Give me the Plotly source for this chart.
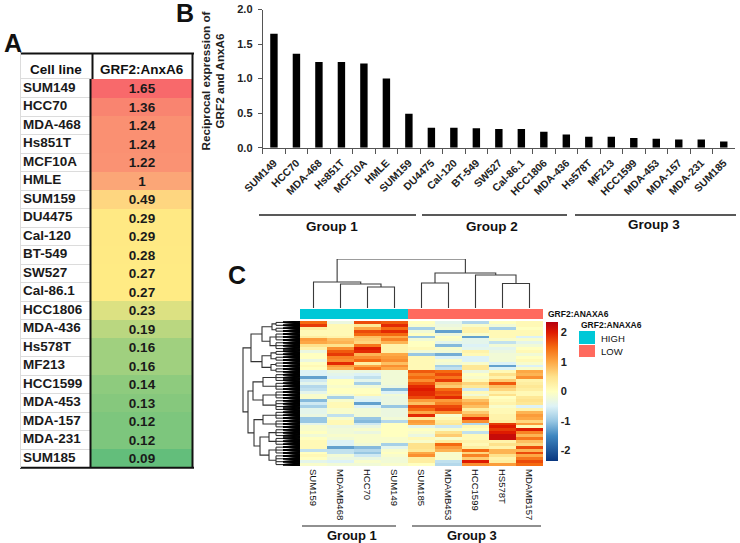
import numpy as np
import plotly.graph_objects as go

W, H = 740, 543
FONT = "Liberation Sans"

# Panel A / B data
cell_lines = ["SUM149", "HCC70", "MDA-468", "Hs851T", "MCF10A", "HMLE", "SUM159", "DU4475", "Cal-120",
              "BT-549", "SW527", "Cal-86.1", "HCC1806", "MDA-436", "Hs578T", "MF213", "HCC1599",
              "MDA-453", "MDA-157", "MDA-231", "SUM185"]
ratio = [1.65, 1.36, 1.24, 1.24, 1.22, 1, 0.49, 0.29, 0.29, 0.28, 0.27, 0.27, 0.23, 0.19, 0.16, 0.16,
         0.14, 0.13, 0.12, 0.12, 0.09]
y_ticks_b = [0, 0.5, 1, 1.5, 2]

# Panel C data, one list per sample, top row first
samples = ["SUM159", "MDAMB468", "HCC70", "SUM149", "SUM185", "MDAMB453", "HCC1599", "HS578T", "MDAMB157"]
SUM159 = [1.5, 1.8, .3, .1, .1, .3, 1.1, 1.0, .5, .2, -.3, 0, 0, -.3, 0, .1, 0, -.5, -.5, -1.3, -.6, -.4, -.8, -.7, -.4,
          -.1, -.1, -1.1, -.6, -.9, -.4, -.4, -.3, -1.0, -1.0, -.4, -.1, -.1, 0, -.2, 0, .1, .1, .1, -.7, 0, .1, 0, -.4, -.1]
MDAMB468 = [-.3, .1, .1, .1, .1, .2, .8, .9, .5, 1.2, 1.6, 1.8, 1.3, 1.2, 1.9, 1.1, .9, -.3, -.4, -.5, 0, 0, -.1, 0, 0,
            -.2, -.9, -.1, .1, .1, -.1, -.1, -.7, -.1, .1, .1, -.3, -.2, -.2, -.1, -.2, -.5, -.5, -1.3, -.7, -.7, -.2, -.3, -.5, -.2]
HCC70 = [1.7, .4, 1.0, 1.7, 1.5, .8, .7, .6, 1.4, 2.0, 1.9, .9, 1.2, 1.5, .3, 1.0, 1.4, -.3, -.5, -.7, -.4, -.9, -.2, 0, 0,
         .1, -.4, -.5, -1.3, -.5, -.2, -.2, -.2, -1.0, -1.1, -.6, -.3, -.1, -.3, -.1, -.1, -.1, -.2, -1.1, -.8, -1.0, -.6, -.3, -.1, -.2]
SUM149 = [1.6, 1.9, 1.5, 1.9, 1.5, 1.0, 1.3, .9, .2, .2, .2, 1.0, 1.1, 1.2, .8, 1.2, 1.0, -.2, -.2, -.2, -.2, -.2, -.3, -1.1, -.5,
          -.2, -.3, -.3, -.3, -1.0, -.3, -.3, -.3, -.2, -.8, 0, 0, 0, 0, 0, -.1, -.1, -.9, -.4, -.1, 0, -.1, -.2, -.2, -.1]
SUM185 = [0, -.1, -.9, -.2, 0, -1.0, -.2, 0, 0, .1, -.2, -1.0, .1, .1, .1, .1, .1, 1.6, 1.3, 1.5, 1.2, 1.6, 1.9, 2.0, 1.9,
          1.9, 1.7, 1.1, .8, 1.7, 1.5, 1.0, 1.9, .4, 1.1, 1.0, -.4, 0, -.1, -.3, .1, -.1, .5, .5, .4, 1.0, 1.2, .3, .3, 0]
MDAMB453 = [-.4, -.3, -.2, -1.3, -.3, 0, -.1, -.4, -1.1, -.1, -.2, -1.2, -.5, -.1, -.2, -.9, -.7, 1.5, 1.7, 1.4, 1.8, .9, .7, 1.5, 1.7,
            1.6, 1.9, 1.1, 1.3, 1.7, 1.8, 1.2, -.1, .1, .3, .4, -.6, -.1, .5, .7, -.1, .3, 1.5, 1.1, .9, -.1, -.1, -.1, -.7, -.8]
HCC1599 = [-.8, -.1, .2, .2, -.1, -1.3, -.4, -.4, -.5, -.4, .2, .1, -.5, -.5, -.1, .4, .4, -.3, 0, -.1, .1, .6, .4, -.6, .1,
           -.2, .3, .8, 1.0, .8, .3, .7, 1.0, 1.9, 1.2, -.8, .1, 0, -.7, .1, .1, .2, .1, .3, 1.5, .6, 1.3, .7, 2.0, 1.2]
HS578T = [0, -.2, -.9, .1, .1, .1, -.1, -.7, -.2, -.4, -.3, -.2, -.2, -.2, -.5, -1.3, -.5, .1, .5, .2, .7, 1.6, .8, .6, .2,
          .5, 0, .1, .2, -.1, .1, .1, .2, .2, .3, 1.8, 2.0, 1.8, 2.0, 2.2, 2.2, .2, .5, .2, .9, .9, .5, .2, .3, 1.1]
MDAMB157 = [.1, .1, 0, .1, .1, -.5, -.1, -.4, -.2, 0, .1, -.2, 0, .1, -.1, -.5, -.1, 1.0, .9, 1.2, .2, .3, .4, .3, .1,
            .1, .4, .5, .4, -.5, .2, .9, 1.1, 1.0, .6, 1.1, .1, 2.0, 1.3, .9, 1.4, .8, .6, 1.7, .9, 1.7, 1.0, 1.4, 1.7, 1.5]
sample_group = [1, 1, 1, 1, 0, 0, 0, 0, 0]

# Dendrograms: (height, left, right); integer leaves are samples, (a, b) leaves are row ranges
col_tree = (49, (26, 0, (24, 1, (21, 2, 3))), (35, (25, 4, 5), (33, 6, (24.5, 7, 8))))
row_A = (49, (38, (28, (0, 1), (2, 3)), (30, (4, 6), (7, 9))), (38, (29, (10, 11), (12, 13)), (29, (14, 15), (16, 17))))
row_B = (52, (47, (37, (18, 20), (21, 23)), (37, (24, 26), (27, 30))),
         (46, (37, (31, 33), (34, 36)), (40, (31, (37, 39), (40, 42)), (31, (43, 45), (46, 49)))))
row_tree = (57, row_A, row_B)
ROW_LEAF_H = 24
ROW_TWIG_H = 17


def dx(a, b):
    return [a / W, b / W]


def dy(top, bottom):
    return [1 - bottom / H, 1 - top / H]


fig = go.Figure()

# ---------- Panel A ----------
stops_a = [[0, "#63BE7B"], [(0.27 - 0.09) / 1.56, "#FFEB84"], [1, "#F8696B"]]
fig.add_trace(go.Scatter(x=[0.035] * len(cell_lines), y=cell_lines, mode="text", text=cell_lines,
                         textposition="middle right", cliponaxis=False,
                         textfont=dict(family=FONT, size=13.5, color="#1a1a1a", weight="bold"),
                         hoverinfo="skip", xaxis="x", yaxis="y"))
fig.add_trace(go.Heatmap(z=[[v] for v in ratio], x=["v"], y=cell_lines, colorscale=stops_a, zmin=0.09, zmax=1.65,
                         showscale=False, text=[[str(v)] for v in ratio], texttemplate="%{text}",
                         textfont=dict(family=FONT, size=13.5, color="#1a1a1a", weight="bold"),
                         hoverinfo="skip", xaxis="x2", yaxis="y"))

# ---------- Panel B ----------
fig.add_trace(go.Bar(x=cell_lines, y=ratio, marker=dict(color="#000000", line=dict(width=0)), width=0.33,
                     hoverinfo="skip", xaxis="x3", yaxis="y3"))

# ---------- Panel C ----------
matrix = np.array([SUM159, MDAMB468, HCC70, SUM149, SUM185, MDAMB453, HCC1599, HS578T, MDAMB157]).T
vmax = 2.35
cs_points = [(-2.35, "#08367F"), (-1.5, "#3F87C0"), (-1, "#98C7E3"), (-.5, "#DDF2F6"), (0, "#FFFFC0"),
             (.5, "#FEE28C"), (1, "#FDA845"), (1.5, "#F56A10"), (2, "#DE1A00"), (2.35, "#B5000F")]
cs = [[(v + vmax) / (2 * vmax), c] for v, c in cs_points]
fig.add_trace(go.Heatmap(z=matrix, x=samples, y=list(range(matrix.shape[0])), colorscale=cs, zmin=-vmax, zmax=vmax,
                         xgap=0, ygap=0, hoverinfo="skip", xaxis="x4", yaxis="y4",
                         colorbar=dict(x=546 / W, xanchor="left", xpad=0, ypad=0, y=1 - 391.3 / H, yanchor="middle",
                                       lenmode="pixels", len=139, thicknessmode="pixels", thickness=12,
                                       outlinewidth=0, ticks="", ticklen=3, tickvals=[-2, -1, 0, 1, 2],
                                       ticktext=["-2", "-1", "0", "1", "2"],
                                       tickfont=dict(family=FONT, size=11, color="#222", weight="bold"))))
fig.add_trace(go.Heatmap(z=[sample_group], x=samples, y=["GRF2:ANAXA6"], showscale=False, zmin=0, zmax=1,
                         colorscale=[[0, "#FF6A5E"], [1, "#00C8D7"]], hoverinfo="skip", xaxis="x4", yaxis="y5"))


# column dendrogram
def col_walk(node, xs, ys):
    if isinstance(node, int):
        return node, 0
    h, l, r = node
    xl, hl = col_walk(l, xs, ys)
    xr, hr = col_walk(r, xs, ys)
    xs += [xl, xl, xr, xr, None]
    ys += [hl, h, h, hr, None]
    return (xl + xr) / 2, h


cx, cy = [], []
col_walk(col_tree, cx, cy)
fig.add_trace(go.Scatter(x=cx, y=cy, mode="lines", line=dict(color="#3a3a3a", width=1.1), hoverinfo="skip",
                         xaxis="x5", yaxis="y6"))


# row dendrogram
def row_walk(node, xs, ys, fx, fy):
    if len(node) == 2:
        a, b = node
        mid = (a + b) / 2
        xs += [ROW_LEAF_H, ROW_LEAF_H, None]
        ys += [a, b, None]
        for row in range(a, b + 1):
            xs += [ROW_LEAF_H, ROW_TWIG_H, None]
            ys += [row, row, None]
            for t in np.linspace(row - 0.5, row + 0.5, 6):
                fx += [ROW_TWIG_H, 0, None]
                fy += [row, t, None]
        return mid, ROW_LEAF_H
    h, l, r = node
    yl, hl = row_walk(l, xs, ys, fx, fy)
    yr, hr = row_walk(r, xs, ys, fx, fy)
    xs += [hl, h, h, hr, None]
    ys += [yl, yl, yr, yr, None]
    return (yl + yr) / 2, h


rx, ry, fx, fy = [], [], [], []
row_walk(row_tree, rx, ry, fx, fy)
fig.add_trace(go.Scatter(x=fx, y=fy, mode="lines", line=dict(color="#000000", width=1.2), hoverinfo="skip",
                         xaxis="x6", yaxis="y7"))
fig.add_trace(go.Scatter(x=rx, y=ry, mode="lines", line=dict(color="#333333", width=1.1), hoverinfo="skip",
                         xaxis="x6", yaxis="y7"))

# ---------- Layout ----------
off = dict(visible=False, showgrid=False, zeroline=False)
nrows = matrix.shape[0]
layout = dict(
    width=W, height=H, margin=dict(l=0, r=0, t=0, b=0, autoexpand=False), autosize=False, showlegend=False,
    plot_bgcolor="rgba(0,0,0,0)", paper_bgcolor="white", font=dict(family=FONT, color="#222"),
    xaxis=dict(domain=dx(20.5, 90), range=[0, 1], fixedrange=True, **off),
    xaxis2=dict(domain=dx(91, 192), anchor="y", fixedrange=True, **off),
    yaxis=dict(domain=dy(79, 467.5), type="category", range=[20.5, -0.5], tickson="boundaries", showgrid=True,
               gridcolor="#dcdcdc", gridwidth=1, showticklabels=False, ticks="", zeroline=False, showline=False),
    xaxis3=dict(domain=dx(262.7, 735), anchor="y3", type="category", range=[-0.5, 20.5], tickson="boundaries",
                ticks="outside", ticklen=5, tickwidth=1, tickcolor="#555", showline=True, linecolor="#555",
                tickangle=-45, showgrid=False, zeroline=False, ticklabelstandoff=4,
                tickfont=dict(family=FONT, size=10.5, color="#222", weight="bold")),
    yaxis3=dict(domain=dy(9.5, 147.7), anchor="x3", range=[0, 2], tickvals=y_ticks_b, ticktext=["0.0", "0.5", "1.0", "1.5", "2.0"],
                ticks="outside", ticklen=4, tickwidth=1, tickcolor="#555", showline=True, linecolor="#555",
                showgrid=False, zeroline=False, ticklabelstandoff=3,
                tickfont=dict(family=FONT, size=11, color="#222", weight="bold")),
    xaxis4=dict(domain=dx(300, 543), anchor="y4", type="category", range=[-0.5, 8.5], ticks="", showgrid=False,
                zeroline=False, showline=False, tickangle=90, ticklabelstandoff=2,
                tickfont=dict(family=FONT, size=9.5, color="#111")),
    yaxis4=dict(domain=dy(321, 466), anchor="x4", range=[nrows - 0.5, -0.5], **off),
    yaxis5=dict(domain=dy(309, 319), anchor="x4", type="category", **off),
    xaxis5=dict(domain=dx(300, 543), anchor="y6", range=[-0.5, 8.5], **off),
    yaxis6=dict(domain=dy(259, 308), anchor="x5", range=[0, 49], **off),
    xaxis6=dict(domain=dx(240, 300), anchor="y7", range=[60, 0], **off),
    yaxis7=dict(domain=dy(321, 466), anchor="x6", range=[nrows - 0.5, -0.5], **off),
)

shapes = []


def hline(x0, x1, y, color="#111", width=1.5):
    shapes.append(dict(type="line", xref="paper", yref="paper", x0=x0 / W, x1=x1 / W, y0=1 - y / H, y1=1 - y / H,
                       line=dict(color=color, width=width)))


def vline(x, y0, y1, color="#111", width=2):
    shapes.append(dict(type="line", xref="paper", yref="paper", x0=x / W, x1=x / W, y0=1 - y0 / H, y1=1 - y1 / H,
                       line=dict(color=color, width=width)))


def box(x0, x1, y0, y1, color):
    shapes.append(dict(type="rect", xref="paper", yref="paper", x0=x0 / W, x1=x1 / W, y0=1 - y1 / H, y1=1 - y0 / H,
                       fillcolor=color, line=dict(width=0)))


# table frame
hline(20, 194, 53.5, width=2)
hline(20, 194, 467.7, width=2)
hline(20, 92, 78.5, color="#dcdcdc", width=1)
vline(92.5, 53, 79, width=2)
vline(90.5, 79, 468, width=2)
vline(192.5, 53, 468, width=2)
vline(20.5, 53, 468, color="#dcdcdc", width=1)
# group brackets
hline(259, 416, 215, color="#222", width=1.5)
hline(422, 567, 215, color="#222", width=1.5)
hline(575, 736, 215, color="#222", width=1.5)
hline(302, 396, 526, color="#222", width=1.2)
hline(412, 541, 526, color="#222", width=1.2)
# annotation legend
box(579, 595, 331, 344, "#00C8D7")
box(579, 595, 345, 357, "#FF6A5E")
layout["shapes"] = shapes

ann = []


def text(x, y, s, size, anchor="center", weight="bold", angle=0, color="#111"):
    ann.append(dict(x=x / W, y=1 - y / H, xref="paper", yref="paper", text=s, showarrow=False, xanchor=anchor,
                    yanchor="middle", textangle=angle, font=dict(family=FONT, size=size, color=color, weight=weight)))


text(12.5, 43, "A", 25)
text(185, 13, "B", 25)
text(237, 275, "C", 25)
text(56, 69, "Cell line", 13.5)
text(142, 69, "GRF2:AnxA6", 13.5)
text(205.5, 81, "Reciprocal expression of", 11.7, angle=-90, color="#222")
text(219.5, 81, "GRF2 and AnxA6", 11.7, angle=-90, color="#222")
text(332, 226, "Group 1", 13.5)
text(492, 226, "Group 2", 13.5)
text(654, 225, "Group 3", 13.5)
text(352, 535, "Group 1", 13)
text(472, 535, "Group 3", 13)
text(546, 314, "GRF2:ANAXA6", 8.5, anchor="left")
text(579, 324.5, "GRF2:ANAXA6", 8.5, anchor="left")
text(599, 338, "HIGH", 9.5, anchor="left", weight="normal")
text(599, 351, "LOW", 9.5, anchor="left", weight="normal")
layout["annotations"] = ann

fig.update_layout(**layout)
fig.write_html("out.html", config=dict(displayModeBar=False),
               post_script="document.body.style.margin='0';document.body.style.overflow='hidden';")
